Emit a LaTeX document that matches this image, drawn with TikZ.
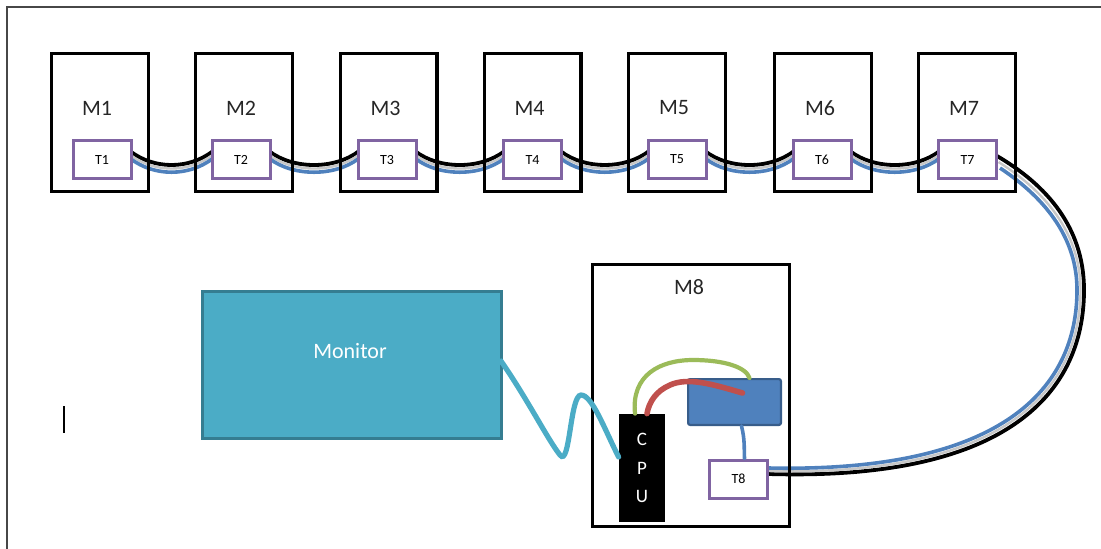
\documentclass[tikz,border=0pt]{standalone}
\usepackage{fontspec}
\setmainfont{Carlito}
\usetikzlibrary{calc}
\definecolor{tpurple}{HTML}{8064A2}
\definecolor{monfill}{HTML}{4BACC6}
\definecolor{mondraw}{HTML}{357D91}
\definecolor{compfill}{HTML}{4F81BD}
\definecolor{compdraw}{HTML}{385D8A}
\definecolor{wgreen}{HTML}{9BBB59}
\definecolor{wred}{HTML}{C0504D}
\definecolor{wblue}{HTML}{4F81BD}
\definecolor{framegray}{HTML}{474747}
\definecolor{labgray}{HTML}{262626}
\begin{document}
\begin{tikzpicture}[x=0.5pt,y=-0.5pt,
  machine/.style={draw=black,line width=1.6pt,minimum width=48.4pt,minimum height=68.9pt,inner sep=0pt},
  term/.style={draw=tpurple,fill=white,line width=1.5pt,minimum width=29pt,minimum height=19pt,inner sep=0pt,font=\fontsize{7}{8}\selectfont},
  mlabel/.style={inner sep=0pt,text=labgray,font=\fontsize{11}{13}\selectfont},
  cblack/.style={draw=black,line width=1.9pt},
  cgray/.style={draw=black!22,line width=1.2pt},
  cblue/.style={draw=wblue,line width=1.8pt},
  wire/.style={line width=#1,line cap=round},
]
\useasboundingbox (0,0) rectangle (1101,548);
% page frame
\draw[framegray,line width=1pt] (7,560) -- (7,7) -- (1110,7);
% text cursor
\draw[black,line width=0.8pt] (64,406) -- (64,433);

% terminals (placed first for anchors; redrawn later on top)
\foreach \i/\tx in {1/102,2/241,3/387,4/532.5,5/677,6/822,7/967.5}{
  \node[term] (T\i) at (\tx,159.5) {};
}
\node[term] (T8) at (738.5,479) {};

% chain cables between terminals
\foreach \a/\b in {T1/T2,T2/T3,T3/T4,T4/T5,T5/T6,T6/T7}{
  \foreach \dy/\st in {-8/cblack,-4.5/cgray,-0.8/cblue}{
    \draw[\st] ($(\a.east)+(-2,\dy)$) .. controls ($(\a.east)+(22,\dy+18)$) and ($(\b.west)+(-22,\dy+18)$) .. ($(\b.west)+(2,\dy)$);
  }
}
% long loop cable T7 -> T8
\draw[cblack] ($(T7.east)+(-1,-3.5)$) .. controls (1055,190) and (1084,235) .. (1084,290)
   .. controls (1084,391) and (1010,481) .. ($(T8.east)+(0,-5)$);
\draw[cgray] ($(T7.east)+(0.5,2.5)$) .. controls (1051,195) and (1080.5,238) .. (1080.5,290)
   .. controls (1080.5,388) and (1008,477) .. ($(T8.east)+(0,-8)$);
\draw[cblue] ($(T7.east)+(2,8.5)$) .. controls (1048,200) and (1077,240) .. (1077,290)
   .. controls (1077,386) and (1006,473) .. ($(T8.east)+(0,-11)$);

% machines
\foreach \i/\mx in {1/100,2/244,3/388.5,4/532.5,5/677,6/823,7/967}{
  \node[machine] (M\i) at (\mx,122.5) {};
  \node[mlabel] (lM\i) at (\mx-3,108) {M\i};
}
% terminals on top
\foreach \i/\tx in {1/102,2/241,3/387,4/532.5,5/677,6/822,7/967.5}{
  \node[term] (T\i) at (\tx,159.5) {T\i};
}

% M8 machine
\node[machine,minimum width=98.4pt,minimum height=130.9pt] (M8) at (691,395.5) {};
\node[mlabel] (lM8) at (689,287) {M8};
\node[term] (T8) at (738.5,479) {T8};

% monitor
\node[draw=mondraw,fill=monfill,line width=1.6pt,minimum width=149.4pt,minimum height=73.4pt,inner sep=0pt] (mon) at (352,365) {};
\node[mlabel,text=white] (lmon) at (350,351) {Monitor};

% CPU and component
\node[fill=black,minimum width=23pt,minimum height=54pt,inner sep=0pt,text=white,align=center,
      font=\fontsize{9.5}{14.25}\selectfont] (cpu) at (642,468) {C\\P\\U};
\node[draw=compdraw,fill=compfill,line width=1.1pt,rounded corners=1pt,minimum width=46.4pt,minimum height=22.9pt,inner sep=0pt] (comp) at (734.5,402) {};

% wires inside M8
\draw[wgreen,wire=2.1pt] ($(cpu.north)+(-7,0)$) .. controls (631,375) and (660,360) .. (693,360)
   .. controls (724,360) and (746,367) .. ($(comp.north)+(15,0)$);
\draw[wred,wire=2.8pt] ($(comp.center)+(8,-9)$) .. controls (712,384) and (688,377) .. (670,385)
   .. controls (656,391) and (649,402) .. ($(cpu.north)+(5,0)$);
\draw[wblue,wire=1.8pt] ($(comp.south)+(7,0)$) .. controls (745,440) and (744,448) .. ($(T8.north)+(6,0)$);

% monitor cable
\draw[monfill,wire=2.6pt] ($(mon.east)+(-2,-4)$) .. controls (528,400) and (548,440) .. (560,455)
   .. controls (570,468) and (570,395) .. (581,395)
   .. controls (592,395) and (604,428) .. ($(cpu.west)+(0,-11)$);
\end{tikzpicture}
\end{document}
